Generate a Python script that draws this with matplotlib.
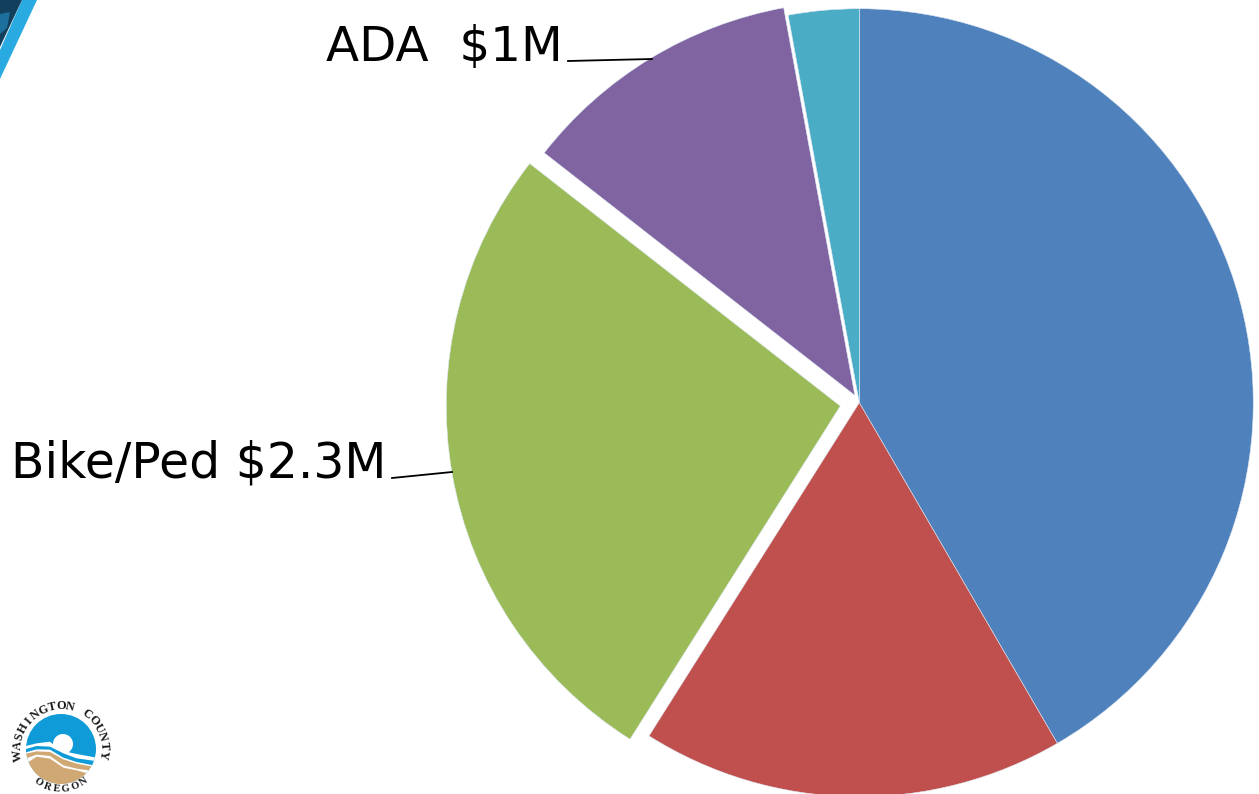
# coding: utf-8
import numpy as np
import matplotlib
matplotlib.use('Agg')
import matplotlib.pyplot as plt
from matplotlib.patches import Circle, Polygon

# budget in $M, clockwise from 12 o'clock
values = [3.6, 1.5, 2.3, 1.0, 0.25]
colors = ['#4F81BD', '#C0504D', '#9BBB59', '#8064A2', '#4BACC6']
explode = [0, 0, 0.049, 0.022, 0]
label_ada = 'ADA  $1M'
label_bike = 'Bike/Ped $2.3M'

W, H = 1259, 794
cx, cy, R = 859.3, 402.7, 394.0

fig = plt.figure(figsize=(W / 100, H / 100), dpi=100)
fig.patch.set_facecolor('white')

# pie axes, unit radius mapped on to the pixel size of the picture
ax = fig.add_axes([0, 0, 1, 1])
ax.pie(values, colors=colors, explode=explode, startangle=90, counterclock=False,
       wedgeprops={'edgecolor': '#dfe8f2', 'linewidth': 0.4})
ax.set_xlim(-cx / R, (W - cx) / R)
ax.set_ylim(-(H - cy) / R, cy / R)
ax.set_aspect('equal')
ax.axis('off')

# overlay in pixel coords for labels and logo
ov = fig.add_axes([0, 0, 1, 1])
ov.set_xlim(0, W)
ov.set_ylim(H, 0)
ov.axis('off')
ov.patch.set_alpha(0)

ov.text(326, 61, label_ada, fontsize=34.8, family='DejaVu Sans', color='black', va='baseline')
ov.text(11, 477.7, label_bike, fontsize=35.2, family='DejaVu Sans', color='black', va='baseline')
ov.plot([568, 652], [61, 59], color='black', lw=1.3)
ov.plot([392, 452], [478, 472], color='black', lw=1.3)

# corner of the slide banner
ov.add_patch(Polygon([(22, 0), (37, 0), (0, 79), (0, 50)], fc='#29ABE2', ec='none'))
ov.add_patch(Polygon([(0, 0), (22, 0), (0, 47)], fc='#12405c', ec='none'))
ov.add_patch(Polygon([(0, 14), (10, 12), (7, 28), (0, 34)], fc='#1d6f9e', ec='none'))

def z(pts):
    return [(x / 3, 690 + y / 3) for x, y in pts]

disc = Circle((61, 749), 35, fc='#0F9BD7', ec='none', zorder=3)
ov.add_patch(disc)
white_low = Polygon(z([(60, 172), (110, 160), (150, 155), (180, 180), (220, 190), (300, 205),
                       (300, 300), (60, 300)]), fc='white', ec='none', zorder=4)
ov.add_patch(white_low)
white_low.set_clip_path(disc)
stripe = Polygon(z([(60, 182), (110, 168), (150, 170), (190, 190), (230, 205), (300, 215),
                    (300, 230), (230, 216), (190, 203), (150, 179), (110, 178), (60, 192)]),
                 fc='#0F9BD7', ec='none', zorder=5)
ov.add_patch(stripe)
stripe.set_clip_path(disc)
sand_band = Polygon(z([(70, 193), (110, 184), (150, 186), (190, 208), (230, 221), (300, 234),
                       (300, 246), (230, 236), (190, 226), (150, 198), (110, 194), (70, 208)]),
                    fc='#D0A873', ec='none', zorder=5)
ov.add_patch(sand_band)
sand_band.set_clip_path(disc)
sand = Polygon(z([(70, 226), (110, 200), (150, 206), (190, 233), (230, 241), (262, 250),
                  (255, 300), (70, 300)]), fc='#D0A873', ec='none', zorder=5)
ov.add_patch(sand)
sand.set_clip_path(disc)
sun = Circle((63, 744), 10, fc='white', ec='none', zorder=4.5)
ov.add_patch(sun)
sun.set_clip_path(disc)

# lettering round the disc
def ring(txt, start, end, r, size, bottom=False):
    for ch, a in zip(txt, np.linspace(start, end, len(txt))):
        t = np.radians(a)
        x = 61 + r * np.sin(t)
        y = 749 - r * np.cos(t)
        rot = 180 - a if bottom else -a
        ov.text(x, y, ch, fontsize=size, family='Liberation Serif', weight='bold', color='#1a1a1a',
                ha='center', va='center', rotation=rot, rotation_mode='anchor', zorder=6)

ring('WASHINGTON COUNTY', -98, 98, 43, 8.8)
ring('OREGON', 214, 146, 40, 7.6, bottom=True)

fig.savefig('out.png', dpi=100)
